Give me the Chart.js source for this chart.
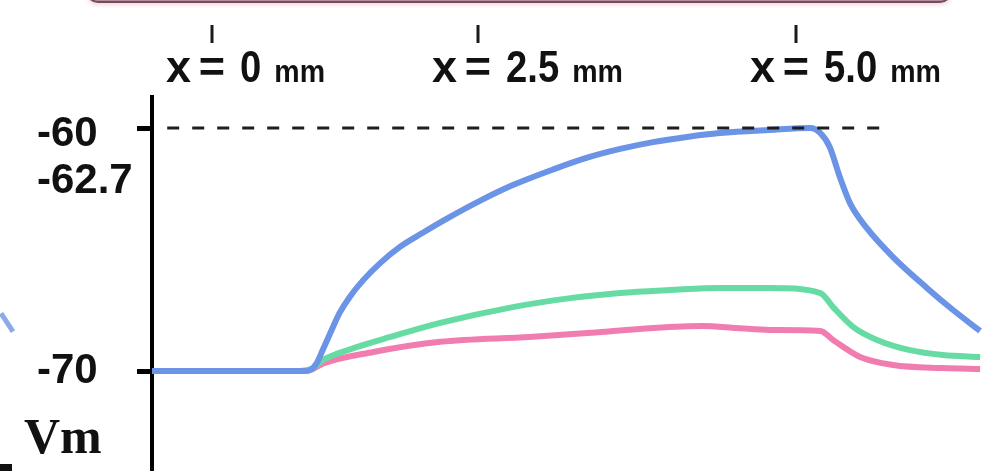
<!DOCTYPE html>
<html>
<head>
<meta charset="utf-8">
<script src="https://cdn.jsdelivr.net/npm/chart.js@4.4.1/dist/chart.umd.min.js"></script>
<style>
  html, body { margin: 0; padding: 0; background: #fff; }
  #wrap { position: relative; width: 997px; height: 471px; overflow: hidden; background: #fff; }
  #c { position: absolute; left: 0; top: 0; }
  .topbar { position: absolute; left: 86px; width: 862px; top: -29px; height: 28px;
            border: 2px solid #6e4f5d; border-radius: 12px; background: #b98a9c;
            box-shadow: 0 2px 4px rgba(230,160,190,0.45); }
  .vm { position: absolute; left: 24px; top: 411px; font: bold 50px 'Liberation Serif', serif;
        line-height: 50px; color: #111; }
  .frag1 { position: absolute; left: -4px; top: 320px; width: 22px; height: 5px; background: #8eaae6;
           transform: rotate(57deg); }
  .frag2 { position: absolute; left: 0; top: 464px; width: 12px; height: 7px; background: #111; }
</style>
</head>
<body>
<div id="wrap">
  <div class="topbar"></div>
  <canvas id="c" width="997" height="471"></canvas>
  <div class="vm">Vm</div>
  <div class="frag1"></div>
  <div class="frag2"></div>
</div>
<script>
// ---- data (time in ms, membrane potential in mV) ----
const blueT  = [0, 1.81, 1.89, 1.95, 2.02, 2.11, 2.22, 2.34, 2.50, 2.70, 2.93, 3.21, 3.49, 3.88, 4.27, 4.75, 5.15, 5.54, 5.93, 6.33, 6.72, 7.31, 7.79, 7.91, 8.02, 8.14, 8.26, 8.46, 8.77, 9.17, 9.48, 9.80];
const blueV  = [-70, -70, -69.92, -69.67, -69.14, -68.44, -67.61, -66.95, -66.26, -65.56, -64.90, -64.30, -63.73, -63.00, -62.35, -61.70, -61.22, -60.86, -60.58, -60.37, -60.21, -60.08, -60.0, -60.21, -60.78, -62.02, -63.09, -64.12, -65.31, -66.58, -67.49, -68.35];

const greenT = [0, 1.75, 1.89, 2.02, 2.43, 2.82, 3.41, 4.27, 4.95, 5.54, 6.13, 6.72, 7.31, 7.91, 8.06, 8.30, 8.58, 8.97, 9.36, 9.80];
const greenV = [-70, -70, -69.90, -69.55, -69.01, -68.60, -68.02, -67.37, -67.0, -66.79, -66.67, -66.58, -66.58, -66.79, -67.37, -68.19, -68.72, -69.14, -69.34, -69.42];

const pinkT  = [0, 1.75, 1.89, 2.02, 2.62, 3.41, 4.47, 5.15, 5.93, 6.52, 6.92, 7.31, 7.91, 8.06, 8.38, 8.77, 9.36, 9.80];
const pinkV  = [-70, -70, -69.94, -69.70, -69.22, -68.80, -68.60, -68.44, -68.23, -68.15, -68.23, -68.31, -68.35, -68.72, -69.42, -69.75, -69.88, -69.92];

const thresholdT = [0.18, 8.73];
const thresholdV = [-60, -60];

const yTicks      = [-70, -60];
const yTickLabels = ['-70', '-60'];
const yExtraValue = -62.7;
const yExtraLabel = '-62.7';
const markerLabels = ['0', '2.5', '5.0'];
const markerUnit = 'mm';

// ---- layout constants ----
const markerPx = [212, 478, 796];
const tickFamily = "'Liberation Sans', Arial, sans-serif";
const tickSize = 42;

const toPts = (t, v) => t.map((x, i) => ({ x: x, y: v[i] }));

const markerPlugin = {
  id: 'markers',
  afterDraw(chart) {
    const ctx = chart.ctx;
    ctx.save();
    // extra y label (no tick mark), sits slightly above its value
    const ys = chart.scales.y;
    ctx.fillStyle = '#111';
    ctx.font = 'bold ' + tickSize + 'px ' + tickFamily;
    ctx.textAlign = 'left';
    ctx.textBaseline = 'middle';
    ctx.fillText(yExtraLabel, ys.left, ys.getPixelForValue(yExtraValue) - 12);

    markerLabels.forEach((m, i) => {
      const cx = markerPx[i];
      ctx.strokeStyle = '#1a1a1a';
      ctx.lineWidth = 3;
      ctx.beginPath();
      ctx.moveTo(cx, 25);
      ctx.lineTo(cx, 43);
      ctx.stroke();
      ctx.fillStyle = '#111';
      ctx.textBaseline = 'alphabetic';
      ctx.font = "bold 45px 'Liberation Sans', Arial, sans-serif";
      ctx.textAlign = 'center';
      ctx.fillText('=', cx, 82);
      ctx.textAlign = 'right';
      ctx.fillText('x', cx - 21, 82);
      ctx.textAlign = 'left';
      const sx = 0.85;
      ctx.save();
      ctx.translate(cx + 28, 82);
      ctx.scale(sx, 1);
      ctx.fillText(m, 0, 0);
      ctx.restore();
      const w = ctx.measureText(m).width * sx;
      ctx.font = "bold 31px 'Liberation Sans', Arial, sans-serif";
      ctx.save();
      ctx.translate(cx + 28 + w + 13, 82);
      ctx.scale(0.92, 1);
      ctx.fillText(markerUnit, 0, 0);
      ctx.restore();
    });
    ctx.restore();
  }
};

// Chart.js paints the first dataset on top: threshold, then blue, green, pink
new Chart(document.getElementById('c'), {
  type: 'line',
  data: {
    datasets: [
      { data: toPts(thresholdT, thresholdV), borderColor: '#1e1e1e', borderWidth: 3,
        borderDash: [12, 13], pointRadius: 0, tension: 0 },
      { data: toPts(blueT, blueV), borderColor: '#6b93e6', borderWidth: 6, pointRadius: 0,
        cubicInterpolationMode: 'monotone' },
      { data: toPts(greenT, greenV), borderColor: '#66dba3', borderWidth: 6, pointRadius: 0,
        cubicInterpolationMode: 'monotone' },
      { data: toPts(pinkT, pinkV), borderColor: '#f17db0', borderWidth: 6, pointRadius: 0,
        cubicInterpolationMode: 'monotone' }
    ]
  },
  options: {
    responsive: false,
    animation: false,
    events: [],
    layout: { padding: { left: 37, top: 97, right: 0, bottom: 0 } },
    plugins: { legend: { display: false }, tooltip: { enabled: false } },
    scales: {
      x: { type: 'linear', min: 0, max: 10, display: false },
      y: {
        type: 'linear', min: -74.115, max: -58.724,
        afterFit(s) { s.width = 115; s.paddingTop = 0; s.paddingBottom = 0; },
        afterBuildTicks(s) { s.ticks = yTicks.map(v => ({ value: v })); },
        border: { display: true, color: '#000', width: 4 },
        grid: { drawOnChartArea: false, drawTicks: true, tickLength: 15, tickWidth: 5, tickColor: '#000' },
        ticks: {
          crossAlign: 'far',
          color: '#111',
          font: (c) => {
            const v = c.tick ? c.tick.value : null;
            return { family: tickFamily, size: tickSize, weight: 'bold', lineHeight: v === -60 ? 0.3 : 1.2 };
          },
          callback: (v) => {
            const idx = yTicks.indexOf(v);
            const lab = idx >= 0 ? yTickLabels[idx] : '';
            return v === -60 ? ['', lab] : lab;
          }
        }
      }
    }
  },
  plugins: [markerPlugin]
});
</script>
</body>
</html>
